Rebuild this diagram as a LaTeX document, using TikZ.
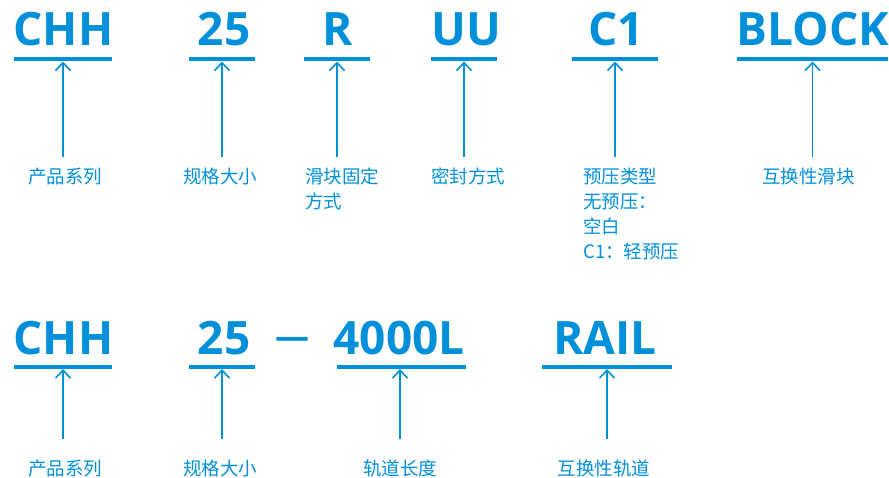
\documentclass[tikz,border=0pt]{standalone}
\usepackage{fontspec}
\setmainfont{Open Sans}
\newfontfamily\cjk{Noto Sans CJK SC}
\usetikzlibrary{arrows.meta,positioning}
\definecolor{hiwin}{RGB}{0,144,218}
\tikzset{
  code/.style={font=\fontsize{46}{46}\selectfont\bfseries, text=hiwin, anchor=base, inner sep=0},
  bar/.style={rectangle, fill=hiwin, minimum height=4pt, inner sep=0, outer sep=0},
  lab/.style={font=\cjk\fontsize{18.5}{25}\selectfont, text=hiwin, inner sep=0, outer ysep=11pt, align=left},
  labrail/.style={lab, outer ysep=20pt},
  arr/.style={draw=hiwin, line width=1.6pt, -{Straight Barb[length=8pt,width=15pt]}}
}
\begin{document}
\begin{tikzpicture}[x=1pt, y=-1pt]
	\useasboundingbox (0,0) rectangle (889,478);
	% slider block code
	\node[code] (chhA) at (63.5,46) {CHH};
	\node[code] (sizeA) at (224,46) {25};
	\node[code] (fix) at (338,46) {R};
	\node[code] (seal) at (466,46) {UU};
	\node[code] (pre) at (616,46) {C1};
	\node[code] (block) at (813,46) {BLOCK};

	\node[bar, minimum width=98pt] (chhAbar) at (63,59.5) {};
	\node[bar, minimum width=66pt] (sizeAbar) at (222,59.5) {};
	\node[bar, minimum width=66pt] (fixbar) at (337,59.5) {};
	\node[bar, minimum width=66pt] (sealbar) at (464,59.5) {};
	\node[bar, minimum width=86pt] (prebar) at (615,59.5) {};
	\node[bar, minimum width=151pt] (blockbar) at (812.5,59.5) {};

	\node[lab, anchor=base] (chhAlab) at (65,184) {产品系列};
	\node[lab, anchor=base] (sizeAlab) at (220,184) {规格大小};
	\node[lab, anchor=base west] (fixlab) at (305,209) {滑块固定\\方式};
	\node[lab, anchor=base] (seallab) at (468,184) {密封方式};
	\node[lab, anchor=base west] (prelab) at (583,259) {预压类型\\无预压：\\空白\\C1：轻预压};
	\node[lab, anchor=base] (blocklab) at (808.5,184) {互换性滑块};

	\draw[arr] (chhAlab.north -| chhAbar) -- (chhAbar.south);
	\draw[arr] (sizeAlab.north -| sizeAbar) -- (sizeAbar.south);
	\draw[arr] (fixlab.north -| fixbar) -- (fixbar.south);
	\draw[arr] (seallab.north -| sealbar) -- (sealbar.south);
	\draw[arr] (prelab.north -| prebar) -- (prebar.south);
	\draw[arr] (blocklab.north -| blockbar) -- (blockbar.south);

	% rail code
	\node[code] (chhB) at (63.5,355) {CHH};
	\node[code] (sizeB) at (224,355) {25};
	\node[code, font=\fontsize{34}{34}\selectfont\bfseries, anchor=center] (dash) at (292,343) {—};
	\node[code] (len) at (399,355) {4000L};
	\node[code] (rail) at (605,355) {RAIL};

	\node[bar, minimum width=98pt] (chhBbar) at (63,367) {};
	\node[bar, minimum width=66pt] (sizeBbar) at (222,367) {};
	\node[bar, minimum width=129pt] (lenbar) at (401.5,367) {};
	\node[bar, minimum width=130pt] (railbar) at (607,367) {};

	\node[labrail, anchor=base] (chhBlab) at (65,475) {产品系列};
	\node[labrail, anchor=base] (sizeBlab) at (220,475) {规格大小};
	\node[labrail, anchor=base] (lenlab) at (400,475) {轨道长度};
	\node[labrail, anchor=base] (raillab) at (604,475) {互换性轨道};

	\draw[arr] (chhBlab.north -| chhBbar) -- (chhBbar.south);
	\draw[arr] (sizeBlab.north -| sizeBbar) -- (sizeBbar.south);
	\draw[arr] (lenlab.north -| lenlab) -- (lenbar.south -| lenlab);
	\draw[arr] (raillab.north -| railbar) -- (railbar.south);
\end{tikzpicture}
\end{document}
